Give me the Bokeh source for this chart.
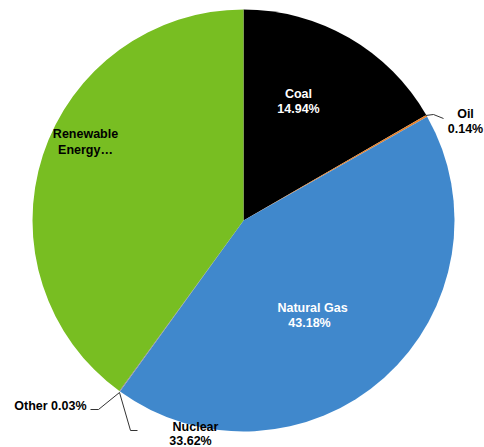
import numpy as np
from bokeh.plotting import figure
from bokeh.models import Range1d, ColumnDataSource
from bokeh.core.properties import value
from bokeh.embed import file_html
from bokeh.resources import INLINE

# Data (clockwise from 12 o'clock)
categories = ["Coal", "Oil", "Natural Gas", "Nuclear", "Other", "Renewable Energy"]
slice_share = [16.67, 0.14, 43.14, 0.03, 0.03, 39.99]   # drawn slice sizes
label_pct = ["14.94%", "0.14%", "43.18%", "33.62%", "0.03%", ""]
colors = ["#000000", "#E8822A", "#4088CC", "#9E9E9E", "#6A3D9A", "#78BE22"]

W, H = 484, 447
p = figure(width=W, height=H, output_backend="svg", toolbar_location=None,
           x_range=Range1d(-243, 241), y_range=Range1d(-227, 220),
           min_border=0)
p.axis.visible = False
p.grid.visible = False
p.outline_line_color = None
p.background_fill_color = "white"

frac = np.array(slice_share) / np.sum(slice_share)
cum = np.concatenate([[0], np.cumsum(frac)])
start = np.pi / 2 - cum[:-1] * 2 * np.pi
end = np.pi / 2 - cum[1:] * 2 * np.pi
src = ColumnDataSource(dict(start=start, end=end, color=colors))
p.wedge(x=0, y=0, radius=211, start_angle="start", end_angle="end",
        direction="clock", fill_color="color", line_color=None, source=src)

font = value("Liberation Sans")

def lbl(x, y, txt, color="black", align="center"):
    p.text(x=[x], y=[y], text=[txt], text_font=font, text_font_size="12.5px",
           text_font_style="bold", text_color=color, text_align=align,
           text_baseline="middle")

# inside labels
lbl(55, 127, categories[0], "white"); lbl(55, 112, label_pct[0], "white")
lbl(69, -87, categories[2], "white"); lbl(66, -102, label_pct[2], "white")
lbl(-158, 87, "Renewable"); lbl(-158, 71, "Energy\u2026")

# outside labels with leader lines
p.line([182, 190, 200], [105, 106, 102], line_color="#333333", line_width=1)
lbl(222, 107, categories[1]); lbl(222, 92, label_pct[1])

p.line([-124, -145, -153], [-172, -189, -189], line_color="#333333", line_width=1)
lbl(-157, -185, categories[4] + " " + label_pct[4], align="right")

p.line([-124, -113, -106], [-172, -210, -210], line_color="#333333", line_width=1)
lbl(-48, -206, categories[3]); lbl(-53, -220, label_pct[3])

open("out.html", "w").write(file_html(p, INLINE))
